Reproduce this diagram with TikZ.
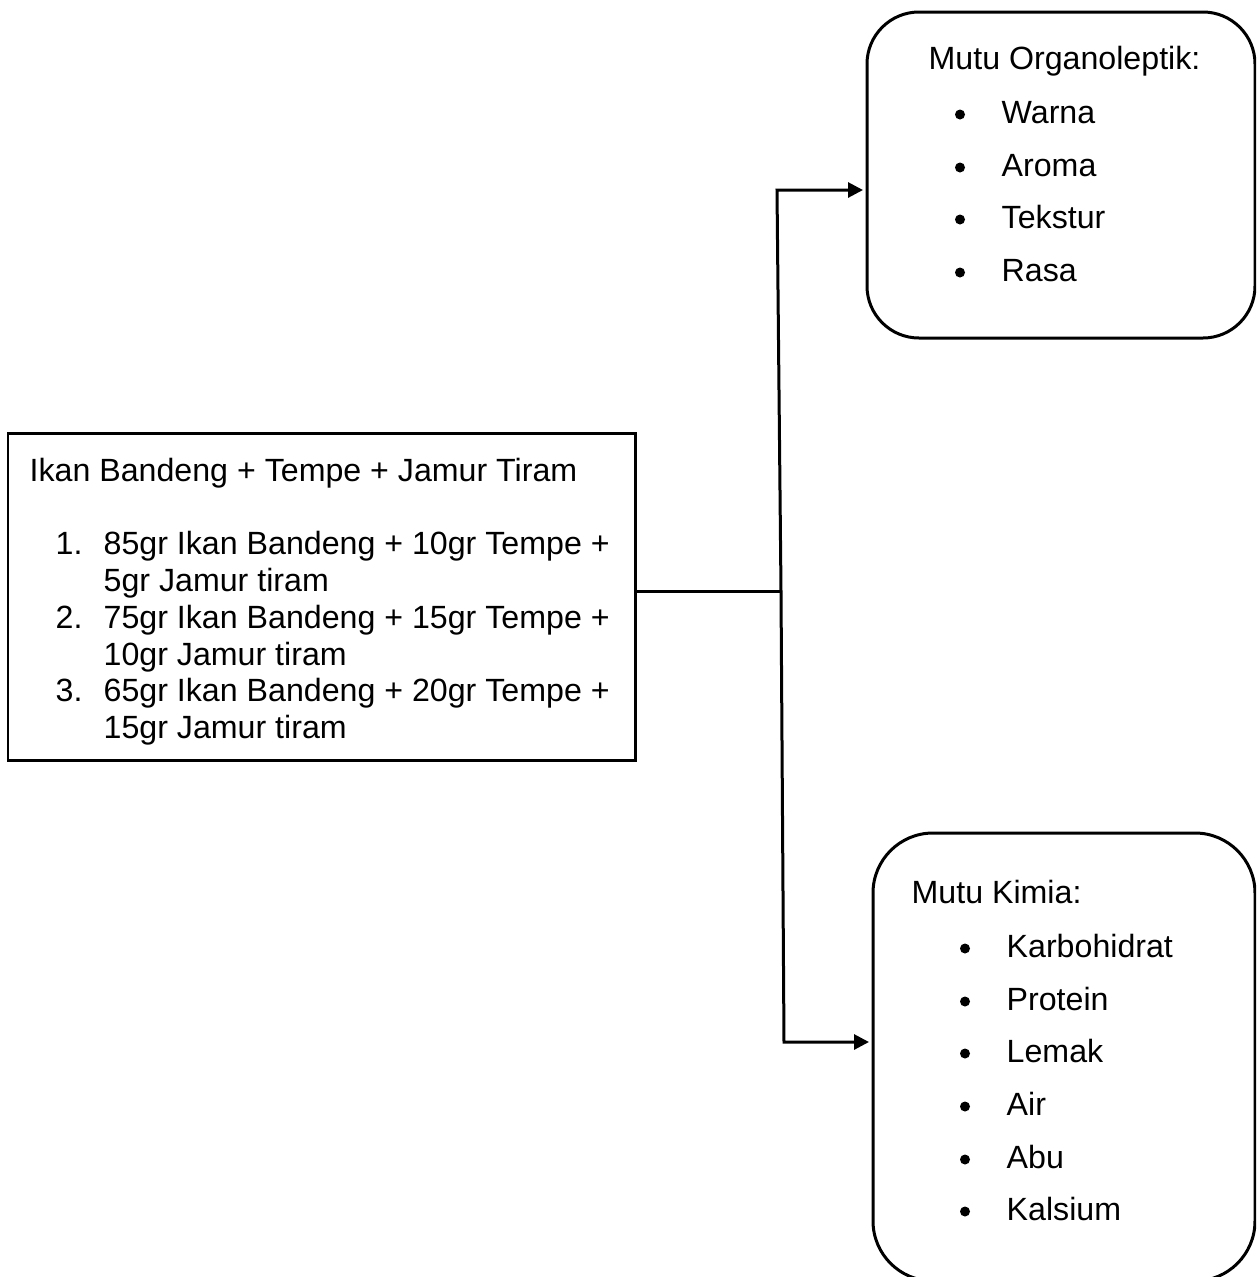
\documentclass[tikz,border=0pt]{standalone}
\usepackage{fontspec}
\setmainfont{Liberation Sans}
\usetikzlibrary{arrows.meta}

\begin{document}
\begin{tikzpicture}
[x=0.1mm,y=-0.1mm,%
  darkLine/.style={line width=0.3mm},%
  darkArrow/.style={-{Triangle[length=1.5mm,width=1.5mm]},line width=0.3mm,shorten >=0.4mm},%
  plainBox/.style={shape=rectangle,draw,line width=0.3mm,inner sep=0pt,outer sep=0pt,anchor=north west},%
  roundBox/.style={plainBox,rounded corners=#1},%
  textLine/.style={anchor=base west,inner sep=0pt,font=\fontsize{9.15}{11}\selectfont},%
  bulletDot/.style={shape=circle,fill,inner sep=0pt,minimum size=1.0mm}]
\path[use as bounding box,clip] (0,0) rectangle (1256,1277);
%% boxes
\node[plainBox,minimum width=62.8mm,minimum height=32.7mm] (mixBox) at (8,433) {};
\node[roundBox=5.2mm,minimum width=38.8mm,minimum height=32.6mm] (organoBox) at (867,12) {};
\node[roundBox=6mm,minimum width=38.2mm,minimum height=44.8mm] (kimiaBox) at (873,833) {};
%% left box text
\node[textLine] (mixTitle) at (29,481) {Ikan Bandeng + Tempe + Jamur Tiram};
\foreach \nodename/\y in {1/554, 2/628, 3/701}
{
  \node[textLine] (num\nodename) at (55,\y) {\nodename.};
}
\foreach \nodename/\y/\txt in {mixA/554/85gr Ikan Bandeng + 10gr Tempe +, mixB/591/5gr Jamur tiram,
  mixC/628/75gr Ikan Bandeng + 15gr Tempe +, mixD/665/10gr Jamur tiram,
  mixE/701/65gr Ikan Bandeng + 20gr Tempe +, mixF/738/15gr Jamur tiram}
{
  \node[textLine] (\nodename) at (103,\y) {\txt};
}
%% organoleptik
\node[textLine] (organoTitle) at (928,69) {Mutu Organoleptik:};
\foreach \nodename/\y in {Warna/123, Aroma/176, Tekstur/228, Rasa/281}
{
  \node[bulletDot] (dot\nodename) at (960,\y-8.5) {};
  \node[textLine] (\nodename) at (1001,\y) {\nodename};
}
%% kimia
\node[textLine] (kimiaTitle) at (911,903) {Mutu Kimia:};
\foreach \nodename/\y in {Karbohidrat/957, Protein/1010, Lemak/1062, Air/1115, Abu/1168, Kalsium/1220}
{
  \node[bulletDot] (dot\nodename) at (965,\y-8.5) {};
  \node[textLine] (\nodename) at (1006,\y) {\nodename};
}
%% connectors
\coordinate (splitTop) at (777,190);
\coordinate (splitMid) at (781,591);
\coordinate (splitBot) at (784,1042);
\draw[darkLine] (mixBox.east |- splitMid) -- (splitMid);
\draw[darkArrow] (splitMid) -- (splitTop) -- (splitTop -| organoBox.west);
\draw[darkArrow] (splitMid) -- (splitBot) -- (splitBot -| kimiaBox.west);
\end{tikzpicture}
\end{document}
